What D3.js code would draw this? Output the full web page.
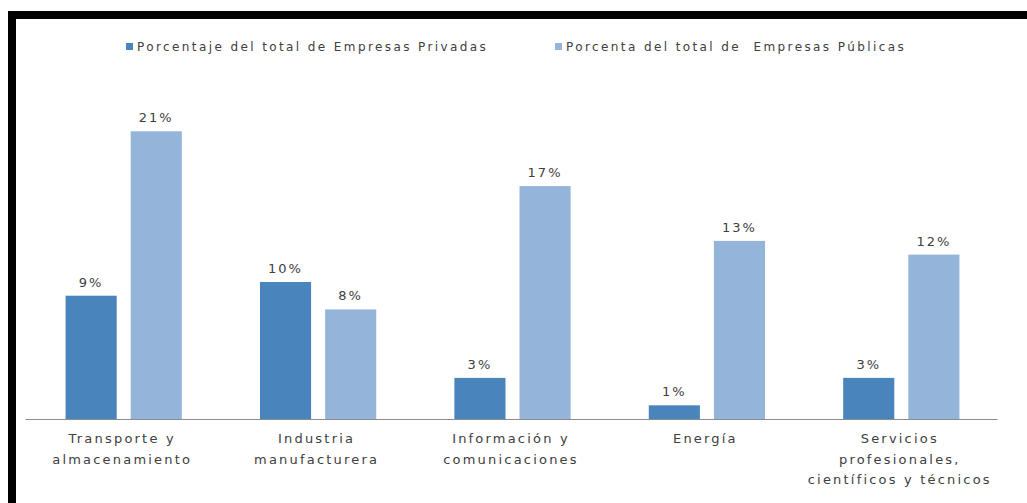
<!DOCTYPE html>
<html lang="es">
<head>
<meta charset="utf-8">
<script src="https://cdn.jsdelivr.net/npm/d3@7"></script>
<style>
  html, body { margin: 0; padding: 0; background: #fff; }
  svg { display: block; }
</style>
</head>
<body>
<svg id="chart" width="1027" height="503"></svg>
<script>
// Sectores y porcentajes por tipo de empresa
const categories = [
  ["Transporte y", "almacenamiento"],
  ["Industria", "manufacturera"],
  ["Información y", "comunicaciones"],
  ["Energía"],
  ["Servicios", "profesionales,", "científicos y técnicos"]
];
const seriesNames = [
  "Porcentaje del total de Empresas Privadas",
  "Porcenta del total de  Empresas Públicas"
];
const privadas = [9, 10, 3, 1, 3];
const publicas = [21, 8, 17, 13, 12];
const seriesColors = ["#4a84bd", "#95b4da"];

const svg = d3.select("#chart");
const W = 1027, H = 503;

// Marco negro (superior e izquierdo)
svg.append("rect").attr("x", 8).attr("y", 11).attr("width", W - 8).attr("height", 8).attr("fill", "#000");
svg.append("rect").attr("x", 8).attr("y", 11).attr("width", 8).attr("height", H - 11).attr("fill", "#000");

const plot = { left: 25, right: 997, bottom: 419, top: 76.5 };
const keys = categories.map((c, i) => i);

const x0 = d3.scaleBand().domain(keys).range([plot.left, plot.right]).paddingInner(0).paddingOuter(0);
const x1 = d3.scaleBand().domain([0, 1]).range([0, x0.bandwidth()]).paddingInner(0.215).paddingOuter(0.6);
const y = d3.scaleLinear().domain([0, 25]).range([plot.bottom, plot.top]);

const rows = keys.map(i => ({ i, values: [privadas[i], publicas[i]] }));

const groups = svg.append("g").selectAll("g").data(rows).join("g")
  .attr("transform", d => `translate(${x0(d.i) + 1.5},0)`);

groups.selectAll("rect").data(d => d.values.map((v, s) => ({ v, s }))).join("rect")
  .attr("x", d => x1(d.s))
  .attr("width", x1.bandwidth())
  .attr("y", d => y(d.v))
  .attr("height", d => y(0) - y(d.v))
  .attr("fill", d => seriesColors[d.s]);

groups.selectAll("text.val").data(d => d.values.map((v, s) => ({ v, s }))).join("text")
  .attr("class", "val")
  .attr("x", d => x1(d.s) + x1.bandwidth() / 2)
  .attr("y", d => y(d.v) - 9)
  .attr("text-anchor", "middle")
  .attr("font-family", "DejaVu Sans")
  .attr("font-size", 13)
  .attr("letter-spacing", 2)
  .attr("fill", "#404040")
  .text(d => d.v + "%");

// Eje horizontal
const xAxis = d3.axisBottom(x0).tickSize(0).tickFormat("");
const axisG = svg.append("g").attr("transform", `translate(0,${plot.bottom})`).call(xAxis);
axisG.select(".domain").attr("stroke", "#8c8c8c").attr("stroke-width", 1.2);

// Etiquetas de categoría (multilínea)
const catText = svg.append("g").selectAll("text").data(keys).join("text")
  .attr("x", i => x0(i) + x0.bandwidth() / 2)
  .attr("y", 443)
  .attr("text-anchor", "middle")
  .attr("font-family", "DejaVu Sans")
  .attr("font-size", 13)
  .attr("letter-spacing", 2.2)
  .attr("fill", "#404040");
catText.selectAll("tspan").data(i => categories[i].map(t => ({ t, x: x0(i) + x0.bandwidth() / 2 }))).join("tspan")
  .attr("x", d => d.x)
  .attr("dy", (d, k) => k === 0 ? 0 : 20.5)
  .text(d => d.t);

// Leyenda
const legendX = [126, 555];
const legend = svg.append("g").selectAll("g").data(seriesNames).join("g")
  .attr("transform", (d, s) => `translate(${legendX[s]},43)`);
legend.append("rect").attr("width", 7).attr("height", 7).attr("fill", (d, s) => seriesColors[s]);
legend.append("text")
  .attr("x", 11).attr("y", 8)
  .attr("font-family", "DejaVu Sans")
  .attr("font-size", 12)
  .attr("letter-spacing", 2.4)
  .attr("fill", "#404040")
  .attr("xml:space", "preserve")
  .style("white-space", "pre")
  .text(d => d);
</script>
</body>
</html>
